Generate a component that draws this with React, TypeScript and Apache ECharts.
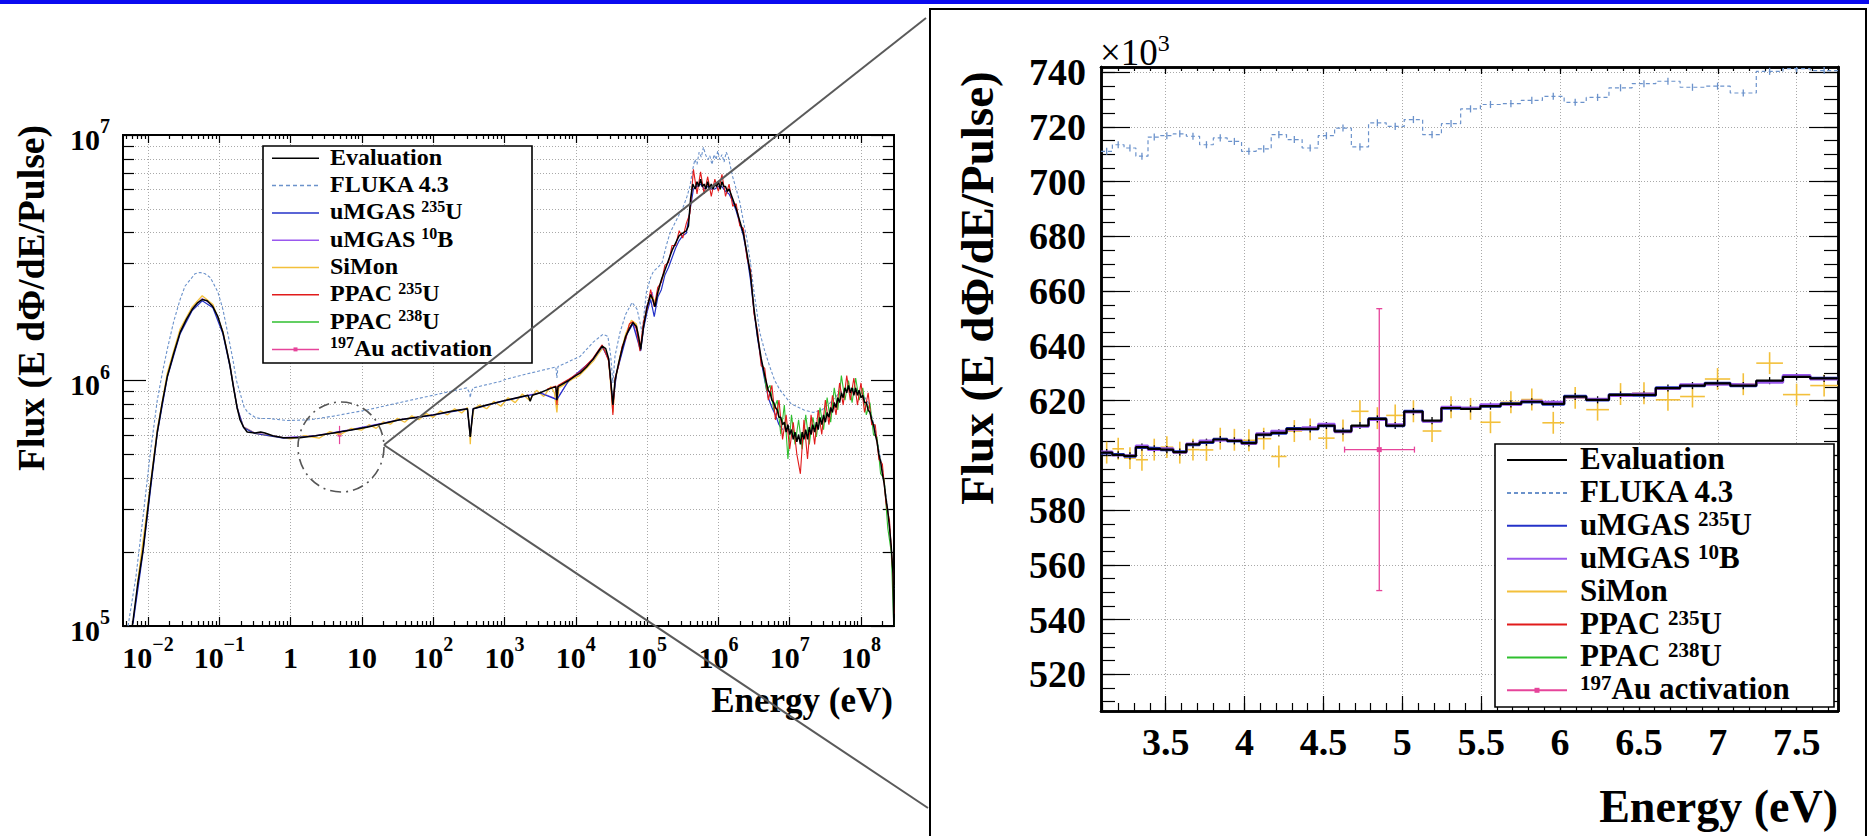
import React, { useEffect, useRef } from "react";
import * as echarts from "echarts";

type P = [number, number];

// ================= Overview panel: [log10(E / eV), log10(flux)] =================
const overviewEvaluation: P[] = [
  [-2.22, 5.0], [-2.15, 5.16], [-2.07, 5.31], [-1.97, 5.56], [-1.87, 5.79], [-1.8, 5.91], [-1.73, 6.016], [-1.64, 6.11],
  [-1.55, 6.196], [-1.46, 6.25], [-1.38, 6.29], [-1.31, 6.315], [-1.24, 6.33], [-1.17, 6.325], [-1.09, 6.3], [-1.02, 6.26],
  [-0.95, 6.196], [-0.9, 6.13], [-0.85, 6.06], [-0.8, 5.97], [-0.75, 5.89], [-0.71, 5.84], [-0.66, 5.81], [-0.61, 5.79],
  [-0.5, 5.786], [-0.42, 5.79], [-0.36, 5.786], [-0.25, 5.775], [-0.1, 5.767], [0.13, 5.767], [0.35, 5.775], [0.6, 5.786],
  [0.85, 5.798], [1.07, 5.81], [1.3, 5.825], [1.53, 5.84], [1.77, 5.85], [2.0, 5.86], [2.25, 5.875], [2.48, 5.885],
  [2.51, 5.8], [2.52, 5.77], [2.53, 5.8], [2.56, 5.885], [2.75, 5.9], [2.94, 5.914], [3.1, 5.925], [3.25, 5.935],
  [3.33, 5.94], [3.36, 5.915], [3.39, 5.94], [3.5, 5.95], [3.62, 5.965], [3.72, 5.975], [3.735, 5.92], [3.75, 5.975],
  [3.9, 6.0], [4.0, 6.02], [4.06, 6.03], [4.15, 6.055], [4.24, 6.086], [4.32, 6.12], [4.37, 6.14], [4.42, 6.13],
  [4.46, 6.09], [4.49, 6.0], [4.52, 5.9], [4.55, 6.0], [4.6, 6.07], [4.65, 6.13], [4.7, 6.18], [4.75, 6.21],
  [4.8, 6.236], [4.85, 6.22], [4.88, 6.18], [4.91, 6.127], [4.95, 6.22], [5.0, 6.3], [5.05, 6.35], [5.08, 6.33],
  [5.11, 6.3], [5.15, 6.36], [5.2, 6.41], [5.25, 6.45], [5.3, 6.49], [5.35, 6.53], [5.4, 6.56], [5.45, 6.59],
  [5.5, 6.6], [5.55, 6.61], [5.58, 6.63], [5.61, 6.74], [5.64, 6.8], [5.675, 6.78], [5.7, 6.81], [5.725, 6.79],
  [5.75, 6.82], [5.775, 6.79], [5.8, 6.8], [5.825, 6.78], [5.85, 6.81], [5.875, 6.78], [5.9, 6.8], [5.925, 6.78],
  [5.95, 6.8], [5.975, 6.79], [6.0, 6.81], [6.025, 6.78], [6.05, 6.81], [6.075, 6.79], [6.1, 6.79], [6.125, 6.77],
  [6.15, 6.78], [6.2, 6.74], [6.25, 6.7], [6.3, 6.65], [6.35, 6.6], [6.4, 6.52], [6.45, 6.43], [6.5, 6.29],
  [6.55, 6.18], [6.6, 6.09], [6.65, 6.02], [6.7, 5.96], [6.725, 5.95], [6.75, 5.92], [6.775, 5.91], [6.8, 5.89],
  [6.825, 5.88], [6.85, 5.85], [6.875, 5.85], [6.9, 5.82], [6.925, 5.83], [6.95, 5.79], [6.975, 5.82], [7.0, 5.78],
  [7.025, 5.8], [7.05, 5.76], [7.075, 5.79], [7.1, 5.75], [7.125, 5.78], [7.15, 5.74], [7.175, 5.79], [7.2, 5.76],
  [7.225, 5.8], [7.25, 5.76], [7.275, 5.81], [7.3, 5.78], [7.325, 5.82], [7.35, 5.79], [7.375, 5.83], [7.4, 5.8],
  [7.425, 5.85], [7.45, 5.82], [7.475, 5.86], [7.5, 5.83], [7.525, 5.87], [7.55, 5.85], [7.575, 5.89], [7.6, 5.87],
  [7.625, 5.91], [7.65, 5.89], [7.675, 5.93], [7.7, 5.91], [7.725, 5.95], [7.75, 5.93], [7.775, 5.97], [7.8, 5.95],
  [7.825, 5.98], [7.85, 5.95], [7.875, 5.97], [7.9, 5.94], [7.925, 5.97], [7.95, 5.94], [7.975, 5.96], [8.0, 5.93],
  [8.025, 5.94], [8.05, 5.91], [8.075, 5.91], [8.1, 5.88], [8.125, 5.87], [8.15, 5.84], [8.175, 5.82], [8.2, 5.78],
  [8.225, 5.75], [8.25, 5.7], [8.275, 5.67], [8.3, 5.62], [8.325, 5.58], [8.35, 5.52], [8.375, 5.47], [8.4, 5.4],
  [8.425, 5.32], [8.45, 5.21], [8.46, 5.0],
];

const overviewFluka: P[] = [
  [-2.28, 5.0], [-2.17, 5.2], [-2.07, 5.445], [-1.97, 5.7], [-1.87, 5.92], [-1.8, 6.03], [-1.73, 6.127], [-1.64, 6.24],
  [-1.55, 6.33], [-1.48, 6.385], [-1.41, 6.41], [-1.34, 6.435], [-1.27, 6.44], [-1.2, 6.435], [-1.13, 6.42], [-1.09, 6.4],
  [-1.02, 6.36], [-0.95, 6.29], [-0.88, 6.19], [-0.81, 6.086], [-0.76, 6.0], [-0.71, 5.95], [-0.65, 5.89], [-0.6, 5.87],
  [-0.5, 5.85], [-0.43, 5.845], [-0.3, 5.845], [-0.05, 5.837], [0.27, 5.84], [0.6, 5.855], [1.07, 5.88], [1.53, 5.91],
  [2.0, 5.94], [2.47, 5.97], [2.51, 5.95], [2.52, 5.93], [2.53, 5.95], [2.56, 5.97], [2.94, 5.996], [3.01, 6.004],
  [3.36, 6.03], [3.72, 6.055], [3.735, 6.01], [3.75, 6.057], [4.06, 6.098], [4.24, 6.155], [4.38, 6.188], [4.45, 6.18],
  [4.49, 6.1], [4.52, 5.99], [4.55, 6.1], [4.62, 6.196], [4.7, 6.27], [4.79, 6.318], [4.86, 6.29], [4.93, 6.196],
  [4.99, 6.36], [5.05, 6.42], [5.09, 6.445], [5.15, 6.46], [5.21, 6.48], [5.27, 6.55], [5.32, 6.6], [5.37, 6.63],
  [5.44, 6.67], [5.51, 6.71], [5.56, 6.75], [5.6, 6.79], [5.64, 6.86], [5.67, 6.9], [5.7, 6.88], [5.73, 6.93],
  [5.76, 6.91], [5.79, 6.95], [5.82, 6.92], [5.85, 6.9], [5.88, 6.915], [5.91, 6.88], [5.94, 6.92], [5.97, 6.9],
  [5.99, 6.935], [6.02, 6.9], [6.05, 6.92], [6.08, 6.89], [6.11, 6.93], [6.14, 6.91], [6.17, 6.87], [6.2, 6.83],
  [6.25, 6.78], [6.3, 6.726], [6.35, 6.65], [6.4, 6.576], [6.45, 6.48], [6.49, 6.38], [6.54, 6.28], [6.58, 6.196],
  [6.65, 6.12], [6.72, 6.057], [6.79, 6.0], [6.86, 5.963], [6.95, 5.93], [7.02, 5.905], [7.1, 5.894], [7.2, 5.88],
  [7.33, 5.87], [7.45, 5.88], [7.57, 5.91], [7.7, 5.95], [7.8, 5.97], [7.9, 5.965], [8.0, 5.955], [8.1, 5.91],
  [8.2, 5.8], [8.3, 5.64], [8.4, 5.42], [8.46, 5.15],
];

const overviewUmgasU235: P[] = [
  [-2.21, 5.01], [-2.07, 5.3], [-1.87, 5.785], [-1.73, 6.012], [-1.55, 6.19], [-1.38, 6.285], [-1.24, 6.325], [-1.09, 6.296],
  [-0.95, 6.19], [-0.85, 6.055], [-0.75, 5.887], [-0.66, 5.808], [-0.5, 5.784], [-0.1, 5.765], [0.35, 5.774], [0.85, 5.799],
  [1.53, 5.839], [2.0, 5.859], [2.48, 5.884], [2.52, 5.772], [2.56, 5.884], [2.94, 5.913], [3.5, 5.949], [3.735, 5.922],
  [3.9, 5.999], [4.24, 6.084], [4.37, 6.138], [4.46, 6.088], [4.52, 5.902], [4.57, 6.028], [4.72, 6.19], [4.8, 6.23],
  [4.91, 6.12], [4.95, 6.21], [5.0, 6.28], [5.05, 6.33], [5.1, 6.26], [5.15, 6.34], [5.2, 6.37], [5.25, 6.43],
  [5.3, 6.46], [5.35, 6.5], [5.4, 6.54], [5.45, 6.57], [5.5, 6.59], [5.55, 6.6], [5.6, 6.69], [5.65, 6.78],
  [5.7, 6.79], [5.75, 6.8], [5.8, 6.78], [5.85, 6.79], [5.9, 6.78], [5.95, 6.78], [6.0, 6.79], [6.05, 6.79],
  [6.1, 6.77], [6.15, 6.76], [6.2, 6.73], [6.25, 6.69], [6.3, 6.64], [6.35, 6.59], [6.4, 6.51], [6.45, 6.41],
  [6.5, 6.28], [6.55, 6.17], [6.6, 6.08], [6.65, 6.0], [6.7, 5.93], [6.75, 5.89], [6.8, 5.86], [6.85, 5.82], [6.9, 5.8],
];

const overviewUmgasB10: P[] = [
  [-2.21, 5.02], [-2.07, 5.32], [-1.87, 5.8], [-1.73, 6.02], [-1.55, 6.2], [-1.38, 6.295], [-1.24, 6.335], [-1.09, 6.305],
  [-0.95, 6.2], [-0.85, 6.065], [-0.75, 5.892], [-0.66, 5.812], [-0.5, 5.787], [-0.1, 5.768], [0.35, 5.776], [0.85, 5.801],
  [1.53, 5.841], [2.0, 5.861], [2.48, 5.886], [2.52, 5.775], [2.56, 5.886], [2.94, 5.915], [3.5, 5.951], [3.735, 5.925],
  [3.9, 6.001], [4.24, 6.087], [4.37, 6.141], [4.46, 6.09], [4.52, 5.905], [4.57, 6.031], [4.72, 6.197], [4.8, 6.237],
  [4.91, 6.13], [4.99, 6.3], [5.07, 6.36], [5.11, 6.3], [5.21, 6.42],
];

const overviewSiMon: P[] = [
  [-2.15, 5.17], [-2.0, 5.5], [-1.87, 5.8], [-1.73, 6.03], [-1.55, 6.21], [-1.38, 6.3], [-1.24, 6.345], [-1.09, 6.31],
  [-0.95, 6.2], [-0.85, 6.06], [-0.75, 5.885], [-0.66, 5.81], [-0.5, 5.785], [-0.3, 5.775], [0.0, 5.762], [0.2, 5.775],
  [0.4, 5.765], [0.55, 5.792], [0.7, 5.78], [0.85, 5.805], [1.0, 5.798], [1.1, 5.82], [1.2, 5.805], [1.3, 5.832],
  [1.4, 5.822], [1.5, 5.846], [1.6, 5.83], [1.7, 5.856], [1.8, 5.84], [1.9, 5.866], [2.0, 5.85], [2.1, 5.876],
  [2.2, 5.86], [2.3, 5.885], [2.4, 5.868], [2.48, 5.89], [2.51, 5.8], [2.52, 5.74], [2.53, 5.8], [2.57, 5.885],
  [2.65, 5.9], [2.75, 5.885], [2.85, 5.915], [2.95, 5.895], [3.05, 5.93], [3.15, 5.91], [3.25, 5.945], [3.35, 5.92],
  [3.45, 5.96], [3.55, 5.935], [3.65, 5.975], [3.7, 5.95], [3.735, 5.87], [3.76, 5.97], [3.85, 5.985], [3.95, 6.005],
  [4.05, 6.02], [4.15, 6.05], [4.25, 6.08], [4.32, 6.11], [4.37, 6.13], [4.42, 6.12], [4.46, 6.08], [4.49, 5.98],
  [4.52, 5.87], [4.55, 5.99], [4.62, 6.1], [4.7, 6.19], [4.78, 6.245], [4.85, 6.23], [4.91, 6.13], [4.97, 6.26],
  [5.03, 6.33], [5.08, 6.34], [5.12, 6.31], [5.18, 6.39], [5.25, 6.44],
];

const overviewPpacU235: P[] = [
  [3.6, 5.965], [3.72, 5.978], [3.735, 5.9], [3.75, 5.98], [3.9, 6.005], [4.06, 6.035], [4.24, 6.09], [4.37, 6.145],
  [4.46, 6.08], [4.49, 5.99], [4.52, 5.86], [4.55, 6.01], [4.6, 6.06], [4.65, 6.14], [4.7, 6.17], [4.75, 6.23],
  [4.8, 6.24], [4.85, 6.21], [4.9, 6.12], [4.95, 6.24], [5.0, 6.29], [5.05, 6.37], [5.1, 6.3], [5.15, 6.38],
  [5.2, 6.4], [5.25, 6.47], [5.3, 6.48], [5.35, 6.55], [5.4, 6.55], [5.45, 6.61], [5.5, 6.58], [5.55, 6.64],
  [5.6, 6.68], [5.65, 6.86], [5.7, 6.76], [5.75, 6.85], [5.8, 6.76], [5.85, 6.83], [5.9, 6.75], [5.95, 6.82],
  [6.0, 6.77], [6.05, 6.84], [6.1, 6.75], [6.15, 6.8], [6.2, 6.71], [6.25, 6.72], [6.3, 6.63], [6.35, 6.62],
  [6.4, 6.5], [6.45, 6.45], [6.5, 6.27], [6.55, 6.2], [6.6, 6.06], [6.65, 6.05], [6.7, 5.92], [6.75, 5.98],
  [6.8, 5.84], [6.85, 5.92], [6.9, 5.76], [6.95, 5.86], [7.0, 5.72], [7.05, 5.83], [7.1, 5.7], [7.15, 5.62],
  [7.2, 5.84], [7.25, 5.68], [7.3, 5.86], [7.35, 5.74], [7.4, 5.88], [7.45, 5.78], [7.5, 5.92], [7.55, 5.82],
  [7.6, 5.94], [7.65, 5.86], [7.7, 5.99], [7.75, 5.9], [7.8, 6.02], [7.85, 5.92], [7.9, 6.01], [7.95, 5.9],
  [8.0, 5.99], [8.05, 5.87], [8.1, 5.95], [8.15, 5.82], [8.2, 5.82], [8.25, 5.68], [8.3, 5.66], [8.35, 5.5],
  [8.4, 5.43], [8.45, 5.2], [8.46, 5.05],
];

const overviewPpacU238: P[] = [
  [6.625, 6.06], [6.675, 5.96], [6.725, 5.98], [6.775, 5.88], [6.825, 5.92], [6.875, 5.78], [6.925, 5.9], [6.975, 5.68],
  [7.025, 5.86], [7.075, 5.74], [7.125, 5.84], [7.175, 5.72], [7.225, 5.86], [7.275, 5.74], [7.325, 5.85], [7.375, 5.77],
  [7.425, 5.89], [7.475, 5.8], [7.525, 5.93], [7.575, 5.83], [7.625, 5.97], [7.675, 5.88], [7.725, 6.02], [7.775, 5.92],
  [7.825, 6.0], [7.875, 5.91], [7.925, 6.01], [7.975, 5.92], [8.025, 5.97], [8.075, 5.86], [8.125, 5.91], [8.175, 5.78],
  [8.225, 5.77], [8.275, 5.62], [8.325, 5.6], [8.375, 5.4], [8.425, 5.3], [8.46, 5.0],
];

// 197Au activation point (E in eV, flux per pulse)
const auEnergy = 4.854;
const auEnergyLow = 4.634;
const auEnergyHigh = 5.077;
const auFlux = 602.1e3;
const auFluxLow = 550.6e3;
const auFluxHigh = 653.6e3;

// ================= Zoom panel (E in eV, flux in 10^3) =================
const zoomBinEdges = [
  3.09, 3.162, 3.236, 3.311, 3.388, 3.467, 3.548, 3.631, 3.715, 3.802, 3.89, 3.981, 4.074, 4.169,
  4.266, 4.365, 4.467, 4.571, 4.677, 4.786, 4.898, 5.012, 5.129, 5.248, 5.37, 5.495, 5.623, 5.754,
  5.888, 6.026, 6.166, 6.31, 6.457, 6.607, 6.761, 6.918, 7.079, 7.244, 7.413, 7.586, 7.762,
];
const zoomEvaluation = [
  601.0, 600.2, 599.8, 603.0, 602.4, 602.1, 601.2, 604.0, 604.8, 605.8, 605.3, 604.5, 607.6, 608.2,
  609.7, 609.7, 610.9, 608.8, 610.9, 613.3, 610.9, 616.0, 612.7, 617.3, 617.0, 618.0, 618.8, 619.6,
  618.8, 621.5, 620.3, 622.1, 622.1, 624.6, 625.5, 626.3, 625.5, 627.3, 628.7, 628.1,
];
const zoomUmgasU235 = [
  600.8, 600.4, 599.6, 602.8, 602.6, 601.9, 601.4, 603.8, 604.6, 606.0, 605.1, 604.7, 607.4, 608.0,
  609.9, 609.5, 610.7, 609.0, 610.7, 613.5, 610.7, 616.2, 612.5, 617.1, 617.2, 617.8, 619.0, 619.4,
  618.6, 621.7, 620.1, 622.3, 621.9, 624.8, 625.3, 626.5, 625.3, 627.1, 628.9, 628.3,
];
const zoomUmgasB10 = [
  601.3, 600.0, 600.1, 603.5, 602.0, 602.5, 601.0, 604.3, 605.4, 605.5, 605.6, 604.2, 608.0, 608.9,
  609.4, 610.2, 611.5, 608.5, 610.5, 613.0, 611.3, 615.7, 612.4, 617.7, 617.4, 618.6, 618.5, 619.9,
  619.5, 621.2, 620.6, 621.8, 622.5, 624.3, 625.9, 626.0, 625.8, 626.6, 629.3, 627.8,
];
const zoomSiMon = [
  601.0, 602.4, 599.0, 598.4, 602.1, 603.0, 601.0, 602.1, 602.0, 606.1, 605.7, 605.5, 606.1, 599.6,
  608.9, 609.5, 606.3, 609.1, 616.1, 613.6, 614.6, 616.1, 608.9, 617.6, 617.0, 612.1, 619.4, 620.4,
  611.9, 621.0, 616.7, 622.4, 622.7, 620.3, 621.5, 627.9, 626.0, 633.7, 622.2, 625.5,
];
const zoomFluka = [
  711.1, 713.5, 712.3, 709.3, 716.3, 716.8, 717.5, 716.6, 713.5, 716.0, 714.7, 711.1, 712.0, 717.2,
  715.4, 712.3, 716.8, 719.6, 712.7, 721.5, 720.2, 722.7, 717.2, 721.2, 726.6, 728.2, 728.5, 729.7,
  731.2, 729.0, 730.8, 734.3, 735.8, 736.7, 734.5, 734.9, 732.4, 740.3, 741.3, 740.6,
];
const zoomEvaluationErr = 1.3;
const zoomFlukaErr = 1.3;
const zoomSiMonErr = 4.0;

// ================= Axes ticks / labels =================
const overviewXDecades = [-2, -1, 0, 1, 2, 3, 4, 5, 6, 7, 8];
const overviewYDecades = [5, 6, 7];
const zoomXMajor = [3.5, 4, 4.5, 5, 5.5, 6, 6.5, 7, 7.5];
const zoomYMajor = [520, 540, 560, 580, 600, 620, 640, 660, 680, 700, 720, 740];

const legendEntries = [
  { key: "evaluation", text: "{b|Evaluation}" },
  { key: "fluka", text: "{b|FLUKA 4.3}" },
  { key: "umgasU", text: "{b|uMGAS }{s|235}{b|U}" },
  { key: "umgasB", text: "{b|uMGAS }{s|10}{b|B}" },
  { key: "simon", text: "{b|SiMon}" },
  { key: "ppacU235", text: "{b|PPAC }{s|235}{b|U}" },
  { key: "ppacU238", text: "{b|PPAC }{s|238}{b|U}" },
  { key: "au", text: "{s|197}{b|Au activation}" },
];

const COLORS: Record<string, string> = {
  evaluation: "#000000",
  fluka: "#6b92cb",
  umgasU: "#2432c8",
  umgasB: "#9a58ee",
  simon: "#f3c03b",
  ppacU235: "#e11b1b",
  ppacU238: "#2fbf2f",
  au: "#e6449a",
};

const FONT = "Liberation Serif, Times New Roman, Times, serif";

// ---------- layout ----------
const L = { left: 123, top: 135, width: 771, height: 491, xMin: -2.351, xMax: 8.463, yMin: 5, yMax: 7 };
const R = { left: 1101, top: 67, width: 737, height: 644, xMin: 3.09, xMax: 7.762, yMin: 506.6, yMax: 741.9 };

function overviewMinor(lo: number, hi: number, d0: number, d1: number) {
  const out: number[] = [];
  for (let d = d0; d <= d1; d++) {
    for (let k = 2; k <= 9; k++) {
      const v = d + Math.log10(k);
      if (v > lo && v < hi) out.push(v);
    }
  }
  return out;
}

function stepPoints(edges: number[], vals: number[]): P[] {
  const out: P[] = [];
  vals.forEach((v, i) => {
    out.push([edges[i], v]);
    out.push([edges[i + 1], v]);
  });
  return out;
}

const supLabel = (v: number) => {
  const k = Math.round(v);
  if (k === 0) return "{b|1}";
  if (k === 1) return "{b|10}";
  return "{b|10}{s|" + (k < 0 ? "\u2212" + -k : String(k)) + "}";
};

const plainLabel = (v: number) => "{b|" + String(Math.round(v * 10) / 10) + "}";

function axis(o: any) {
  return {
    type: "value",
    gridIndex: o.grid,
    position: o.position,
    min: o.min,
    max: o.max,
    axisLine: { show: true, onZero: false, lineStyle: { color: "#000", width: o.lineWidth ?? 2 } },
    axisTick: { show: true, inside: true, length: o.len, customValues: o.ticks, lineStyle: { color: "#000", width: 1.2 } },
    minorTick: { show: false },
    axisLabel: o.label ? { show: true, customValues: o.ticks, ...o.label } : { show: false },
    splitLine: { show: !!o.split, lineStyle: { color: "#a9a9a9", width: 1, type: [1, 2] } },
    splitArea: { show: false },
  };
}

export default function App() {
  const ref = useRef<HTMLDivElement>(null);

  useEffect(() => {
    if (!ref.current) return;
    const chart = echarts.init(ref.current, undefined, { renderer: "svg" });

    const oxMinor = overviewMinor(L.xMin, L.xMax, -3, 8);
    const oyMinor = overviewMinor(L.yMin, L.yMax, 5, 6);
    const zxMinor: number[] = [];
    for (let i = 31; i <= 77; i++) zxMinor.push(i / 10);
    const zyMinor: number[] = [];
    for (let v = 510; v <= 740; v += 5) zyMinor.push(v);

    const overviewRich = {
      b: { fontFamily: FONT, fontWeight: "bold", fontSize: 30, color: "#000", lineHeight: 46 },
      s: { fontFamily: FONT, fontWeight: "bold", fontSize: 20, color: "#000", lineHeight: 20, verticalAlign: "top" },
    };
    const zoomRich = {
      b: { fontFamily: FONT, fontWeight: "bold", fontSize: 38, color: "#000", lineHeight: 40 },
    };
    const zoomLabel = { fontFamily: FONT, fontWeight: "bold", fontSize: 38, color: "#000", formatter: plainLabel, rich: zoomRich };

    const xAxis = [
      axis({ grid: 0, position: "bottom", min: L.xMin, max: L.xMax, ticks: overviewXDecades, len: 9, split: true,
        label: { margin: 8, formatter: supLabel, rich: overviewRich, fontFamily: FONT, fontWeight: "bold" } }),
      axis({ grid: 0, position: "bottom", min: L.xMin, max: L.xMax, ticks: oxMinor, len: 5 }),
      axis({ grid: 0, position: "top", min: L.xMin, max: L.xMax, ticks: overviewXDecades, len: 8 }),
      axis({ grid: 0, position: "top", min: L.xMin, max: L.xMax, ticks: oxMinor, len: 4 }),
      axis({ grid: 1, position: "bottom", min: R.xMin, max: R.xMax, ticks: zxMinor, len: 8, lineWidth: 2.5 }),
      axis({ grid: 1, position: "bottom", min: R.xMin, max: R.xMax, ticks: zoomXMajor, len: 15, split: true, lineWidth: 2.5,
        label: { margin: 11, ...zoomLabel } }),
      axis({ grid: 1, position: "top", min: R.xMin, max: R.xMax, ticks: zoomXMajor, len: 7, lineWidth: 2.5 }),
      axis({ grid: 1, position: "top", min: R.xMin, max: R.xMax, ticks: zxMinor, len: 4, lineWidth: 2.5 }),
    ];
    const yAxis = [
      axis({ grid: 0, position: "left", min: L.yMin, max: L.yMax, ticks: overviewYDecades, len: 23,
        label: { margin: 13, formatter: supLabel, rich: overviewRich, padding: [8, 0, 0, 0], fontFamily: FONT, fontWeight: "bold" } }),
      axis({ grid: 0, position: "left", min: L.yMin, max: L.yMax, ticks: oyMinor, len: 11, split: true }),
      axis({ grid: 0, position: "right", min: L.yMin, max: L.yMax, ticks: overviewYDecades, len: 23 }),
      axis({ grid: 0, position: "right", min: L.yMin, max: L.yMax, ticks: oyMinor, len: 11 }),
      axis({ grid: 1, position: "left", min: R.yMin, max: R.yMax, ticks: zyMinor, len: 14, lineWidth: 2.5 }),
      axis({ grid: 1, position: "left", min: R.yMin, max: R.yMax, ticks: zoomYMajor, len: 29, split: true, lineWidth: 2.5,
        label: { margin: 15, ...zoomLabel } }),
      axis({ grid: 1, position: "right", min: R.yMin, max: R.yMax, ticks: zoomYMajor, len: 29, lineWidth: 2.5 }),
      axis({ grid: 1, position: "right", min: R.yMin, max: R.yMax, ticks: zyMinor, len: 14, lineWidth: 2.5 }),
    ];

    const overviewLine = (name: string, data: P[], color: string, width: number, dash?: any) => ({
      name, type: "line", xAxisIndex: 0, yAxisIndex: 0, data, showSymbol: false, symbol: "none",
      clip: true, silent: true, lineStyle: { color, width, type: dash || "solid" },
    });

    const zoomStep = (name: string, vals: number[], color: string, width: number, dash?: any) => ({
      name, type: "line", xAxisIndex: 4, yAxisIndex: 4, data: stepPoints(zoomBinEdges, vals), showSymbol: false,
      symbol: "none", clip: true, silent: true, lineStyle: { color, width, type: dash || "solid" },
    });

    const zoomTicks = (name: string, vals: number[], err: number, color: string) => ({
      name, type: "custom", xAxisIndex: 4, yAxisIndex: 4, clip: true, silent: true,
      data: vals.map((v, i) => [(zoomBinEdges[i] + zoomBinEdges[i + 1]) / 2, v, err]),
      encode: { x: 0, y: 1 },
      renderItem: (_p: any, api: any) => {
        const c = api.value(0), v = api.value(1), e = api.value(2);
        const t = api.coord([c, v + e]);
        const b = api.coord([c, v - e]);
        return { type: "line", shape: { x1: t[0], y1: t[1], x2: b[0], y2: b[1] }, style: { stroke: color, lineWidth: 1.3 } };
      },
    });

    const errorCross = (color: string, marker: number, cap: number, lw: number) =>
      (_p: any, api: any) => {
        const x = api.value(0), xlo = api.value(1), xhi = api.value(2);
        const y = api.value(3), ylo = api.value(4), yhi = api.value(5);
        const c = api.coord([x, y]);
        const l = api.coord([xlo, y]);
        const r = api.coord([xhi, y]);
        const t = api.coord([x, yhi]);
        const b = api.coord([x, ylo]);
        const st = { stroke: color, lineWidth: lw };
        const children: any[] = [
          { type: "line", shape: { x1: l[0], y1: l[1], x2: r[0], y2: r[1] }, style: st },
          { type: "line", shape: { x1: t[0], y1: t[1], x2: b[0], y2: b[1] }, style: st },
        ];
        if (cap > 0) {
          children.push(
            { type: "line", shape: { x1: l[0], y1: l[1] - cap, x2: l[0], y2: l[1] + cap }, style: st },
            { type: "line", shape: { x1: r[0], y1: r[1] - cap, x2: r[0], y2: r[1] + cap }, style: st },
            { type: "line", shape: { x1: t[0] - cap, y1: t[1], x2: t[0] + cap, y2: t[1] }, style: st },
            { type: "line", shape: { x1: b[0] - cap, y1: b[1], x2: b[0] + cap, y2: b[1] }, style: st },
          );
        }
        children.push({ type: "rect", shape: { x: c[0] - marker / 2, y: c[1] - marker / 2, width: marker, height: marker }, style: { fill: color } });
        return { type: "group", children };
      };

    const series: any[] = [
      // overview
      overviewLine("FLUKA 4.3", overviewFluka, COLORS.fluka, 1.1, [3, 2]),
      overviewLine("uMGAS 10B", overviewUmgasB10, COLORS.umgasB, 1),
      overviewLine("SiMon", overviewSiMon, COLORS.simon, 1.3),
      overviewLine("uMGAS 235U", overviewUmgasU235, COLORS.umgasU, 1.2),
      overviewLine("PPAC 238U", overviewPpacU238, COLORS.ppacU238, 1.1),
      overviewLine("PPAC 235U", overviewPpacU235, COLORS.ppacU235, 1.1),
      overviewLine("Evaluation", overviewEvaluation, COLORS.evaluation, 1.5),
      {
        name: "197Au activation", type: "custom", xAxisIndex: 0, yAxisIndex: 0, clip: true, silent: true,
        data: [[Math.log10(auEnergy), Math.log10(auEnergyLow), Math.log10(auEnergyHigh), Math.log10(auFlux), Math.log10(auFluxLow), Math.log10(auFluxHigh)]],
        encode: { x: 0, y: 3 },
        renderItem: errorCross(COLORS.au, 4, 0, 1.2),
      },
      // zoom
      zoomStep("FLUKA 4.3 zoom", zoomFluka, COLORS.fluka, 1.2, [4, 3]),
      zoomTicks("FLUKA 4.3 err", zoomFluka, zoomFlukaErr, COLORS.fluka),
      zoomStep("uMGAS 235U zoom", zoomUmgasU235, COLORS.umgasU, 2.4),
      zoomStep("uMGAS 10B zoom", zoomUmgasB10, COLORS.umgasB, 2.4),
      {
        name: "SiMon zoom", type: "custom", xAxisIndex: 4, yAxisIndex: 4, clip: true, silent: true,
        data: zoomSiMon.map((v, i) => [zoomBinEdges[i], zoomBinEdges[i + 1], v, zoomSiMonErr]),
        encode: { x: [0, 1], y: 2 },
        renderItem: (_p: any, api: any) => {
          const lo = api.value(0), hi = api.value(1), v = api.value(2), e = api.value(3);
          const c = (lo + hi) / 2;
          const a = api.coord([lo, v]);
          const b = api.coord([hi, v]);
          const t = api.coord([c, v + e]);
          const d = api.coord([c, v - e]);
          const st = { stroke: COLORS.simon, lineWidth: 1.6 };
          return {
            type: "group",
            children: [
              { type: "line", shape: { x1: a[0], y1: a[1], x2: b[0], y2: b[1] }, style: st },
              { type: "line", shape: { x1: t[0], y1: t[1], x2: d[0], y2: d[1] }, style: st },
            ],
          };
        },
      },
      zoomStep("Evaluation zoom", zoomEvaluation, COLORS.evaluation, 2.2),
      zoomTicks("Evaluation err", zoomEvaluation, zoomEvaluationErr, COLORS.evaluation),
      {
        name: "197Au zoom", type: "custom", xAxisIndex: 4, yAxisIndex: 4, clip: true, silent: true,
        data: [[auEnergy, auEnergyLow, auEnergyHigh, auFlux / 1e3, auFluxLow / 1e3, auFluxHigh / 1e3]],
        encode: { x: 0, y: 3 },
        renderItem: errorCross(COLORS.au, 5, 3, 1.3),
      },
    ];

    // ---------- graphics: legends, titles, zoom marker ----------
    const Z = 100;
    const legendGraphics = (box: any, lineX0: number, lineX1: number, textX: number, y0: number, gap: number,
      fs: number, sfs: number, lh: number, slh: number, lw: number, dotSize: number) => {
      const els: any[] = [
        { type: "rect", z: Z, shape: { x: box.x, y: box.y, width: box.w, height: box.h },
          style: { fill: "#fff", stroke: "#000", lineWidth: 1.6 } },
      ];
      legendEntries.forEach((en, i) => {
        const y = y0 + i * gap;
        const color = COLORS[en.key];
        els.push({
          type: "line", z: Z + 1, shape: { x1: lineX0, y1: y, x2: lineX1, y2: y },
          style: { stroke: color, lineWidth: lw, lineDash: en.key === "fluka" ? [4, 3] : null },
        });
        if (en.key === "au") {
          els.push({ type: "rect", z: Z + 2, shape: { x: (lineX0 + lineX1) / 2 - dotSize / 2, y: y - dotSize / 2, width: dotSize, height: dotSize },
            style: { fill: color } });
        }
        els.push({
          type: "text", z: Z + 1, x: textX, y: y - 1.5,
          style: {
            text: en.text, align: "left", verticalAlign: "middle", fill: "#000",
            fontFamily: FONT, fontWeight: "bold", fontSize: fs,
            rich: {
              b: { fontFamily: FONT, fontWeight: "bold", fontSize: fs, lineHeight: lh, fill: "#000" },
              s: { fontFamily: FONT, fontWeight: "bold", fontSize: sfs, lineHeight: slh, verticalAlign: "top", fill: "#000" },
            },
          },
        });
      });
      return els;
    };

    const graphic: any[] = [
      { type: "rect", z: Z, shape: { x: 0, y: 0, width: 1869, height: 4 }, style: { fill: "#0a0af0" } },
      { type: "rect", z: Z, shape: { x: 930, y: 9, width: 936, height: 900 }, style: { fill: "none", stroke: "#000", lineWidth: 2 } },
      ...legendGraphics({ x: 263, y: 146, w: 269, h: 217 }, 272, 319, 330, 158.3, 27.3, 24, 16, 26, 9, 1.5, 4),
      ...legendGraphics({ x: 1495, y: 444, w: 339, h: 263 }, 1507, 1567, 1580, 460, 32.9, 31, 21, 32, 11, 2, 5),
      // axis titles
      { type: "text", z: Z, x: 31, y: 298, rotation: Math.PI / 2,
        style: { text: "Flux (E d\u03A6/dE/Pulse)", align: "center", verticalAlign: "middle", fill: "#000",
          fontFamily: FONT, fontWeight: "bold", fontSize: 37.5 } },
      { type: "text", z: Z, x: 893, y: 700,
        style: { text: "Energy (eV)", align: "right", verticalAlign: "middle", fill: "#000",
          fontFamily: FONT, fontWeight: "bold", fontSize: 35 } },
      { type: "text", z: Z, x: 977, y: 288, rotation: Math.PI / 2,
        style: { text: "Flux (E d\u03A6/dE/Pulse)", align: "center", verticalAlign: "middle", fill: "#000",
          fontFamily: FONT, fontWeight: "bold", fontSize: 47 } },
      { type: "text", z: Z, x: 1838, y: 806,
        style: { text: "Energy (eV)", align: "right", verticalAlign: "middle", fill: "#000",
          fontFamily: FONT, fontWeight: "bold", fontSize: 46 } },
      { type: "text", z: Z, x: 1100, y: 52,
        style: { text: "{b|\u00D710}{s|3}", align: "left", verticalAlign: "middle", fill: "#000",
          rich: {
            b: { fontFamily: FONT, fontSize: 37, lineHeight: 42, fill: "#000" },
            s: { fontFamily: FONT, fontSize: 24, lineHeight: 16, verticalAlign: "top", fill: "#000" },
          } } },
      // zoom marker
      { type: "ellipse", z: Z + 5, shape: { cx: 341, cy: 447, rx: 43, ry: 45 },
        style: { fill: "none", stroke: "#555", lineWidth: 1.6, lineDash: [11, 5, 2, 5] } },
      { type: "line", z: Z + 10, shape: { x1: 384, y1: 445, x2: 926, y2: 18 }, style: { stroke: "#5a5a5a", lineWidth: 2 } },
      { type: "line", z: Z + 10, shape: { x1: 384, y1: 445, x2: 928, y2: 808 }, style: { stroke: "#5a5a5a", lineWidth: 2 } },
    ];

    chart.setOption({
      animation: false,
      backgroundColor: "#ffffff",
      grid: [
        { left: L.left, top: L.top, width: L.width, height: L.height, containLabel: false, outerBoundsMode: "none" },
        { left: R.left, top: R.top, width: R.width, height: R.height, containLabel: false, outerBoundsMode: "none" },
      ],
      xAxis,
      yAxis,
      series,
      graphic,
      tooltip: { show: false },
      legend: { show: false },
    });

    return () => chart.dispose();
  }, []);

  return <div ref={ref} style={{ position: "absolute", left: 0, top: 0, width: 1869, height: 836 }} />;
}
